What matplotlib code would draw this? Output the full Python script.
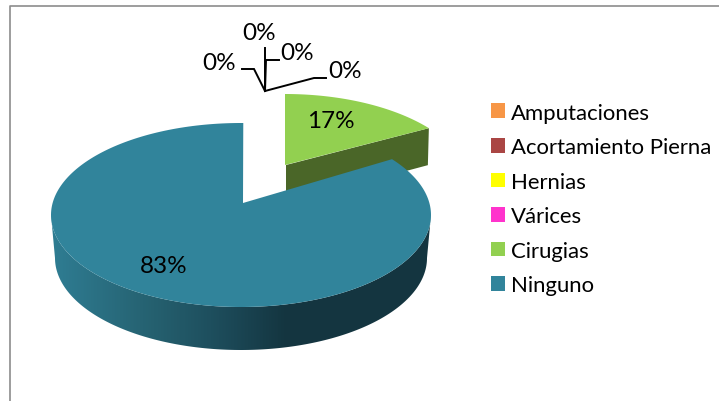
import matplotlib
matplotlib.use("Agg")
import matplotlib.pyplot as plt
import matplotlib.colors as mc
from matplotlib.patches import Polygon, Patch
import numpy as np

categorias = ["Amputaciones", "Acortamiento Pierna", "Hernias", "Várices", "Cirugias", "Ninguno"]
valores = [0, 0, 0, 0, 17, 83]
colores = ["#F79646", "#AA4644", "#FFFF00", "#FF33CC", "#92D050", "#31849B"]

plt.rcParams['font.family'] = ['Lato', 'DejaVu Sans']
TXT_LEY = 15.9
TXT_PCT = 17.5

# geometria del pastel 3D (pixeles)
ry = 92
prof = 43


def vista(theta, k):
    # angulo real -> angulo visto, la perspectiva aplasta el sector
    return np.arctan2(k * np.sin(theta), np.cos(theta)) % (2 * np.pi)


def borde(cx, cy, t, rx=190, ry=ry):
    return cx + rx * np.sin(t), cy - ry * np.cos(t)


fig = plt.figure(figsize=(7.19, 4.02), dpi=100)
ax = fig.add_axes([0, 0, 1, 1])
ax.set_xlim(0, 719)
ax.set_ylim(402, 0)
ax.axis('off')

# marco del grafico
ax.plot([9.5, 9.5, 719], [402, 6.5, 6.5], color='#8c8c8c', lw=1.2)

angulo = np.radians(sum(valores[:5]) / sum(valores) * 360)

# Cirugias
t = np.linspace(0, vista(angulo, 0.68), 60)
x, y = borde(285, 187, t, rx=185)
oscuro = '#4A6628'
ax.add_patch(Polygon([(286, 166), (x[-1], y[-1]), (x[-1] - 1, y[-1] + 37), (286, 204)],
                     fc=oscuro, ec='none', zorder=2))
ax.add_patch(Polygon(np.r_[[(285, 166)], np.c_[x, y]], fc=colores[4], ec='none', zorder=3))

# Ninguno: pared con degradado
cx, cy = 241, 216
ts = np.linspace(np.pi / 2, 3 * np.pi / 2, 200)
xa, ya = borde(cx, cy, ts)
xb, yb = borde(cx, cy + prof, ts, rx=186)
pared = Polygon(np.r_[np.c_[xa, ya], np.c_[xb, yb][::-1]], fc='none', ec='none', transform=ax.transData)
ax.add_patch(pared)
grad = mc.LinearSegmentedColormap.from_list("pared", [(0, '#2F7D93'), (0.27, '#25606F'),
                                                      (0.42, '#1E4F5E'), (0.62, '#143540'), (1, '#143540')])
im = ax.imshow(np.linspace(0, 1, 380)[None, :], cmap=grad, extent=(51, 431, 360, 200), aspect='auto', zorder=4)
im.set_clip_path(pared)
ax.set_xlim(0, 719)
ax.set_ylim(402, 0)

# Ninguno: cara superior
t = np.linspace(vista(angulo, 0.72), 2 * np.pi + 0.012, 240)
x, y = borde(cx, cy, t)
ax.add_patch(Polygon(np.r_[[(243, 204)], np.c_[x, y]], fc=colores[5], ec='none', zorder=5))

# etiquetas
ax.text(331, 122, f"{valores[4]}%", fontsize=TXT_PCT, ha='center', va='center', zorder=6)
ax.text(164, 267, f"{valores[5]}%", fontsize=TXT_PCT, ha='center', va='center', zorder=6)

# lineas guia de los 0%
hub = (265, 92)
guias = [[(254, 70), (242, 70)], [(265, 49)], [(266, 61), (279, 61)], [(314, 79), (326, 79)]]
pos_cero = [(219, 64), (259, 33), (297, 54), (345, 72)]
for g, p, v in zip(guias, pos_cero, valores):
    px, py = zip(*([hub] + g))
    ax.plot(px, py, color='k', lw=1.4, zorder=6, solid_joinstyle='miter')
    ax.text(p[0], p[1], f"{v}%", fontsize=TXT_PCT, ha='center', va='center', zorder=6)

# leyenda
h = [Patch(fc=c, ec='none') for c in colores]
ax.legend(h, categorias, loc='upper left', bbox_to_anchor=(491 / 719, 1 - 103.5 / 402),
          frameon=False, fontsize=TXT_LEY, handlelength=0.64, handleheight=0.64,
          handletextpad=0.27, labelspacing=0.66, borderpad=0, borderaxespad=0)

fig.savefig("out.png", dpi=100)
